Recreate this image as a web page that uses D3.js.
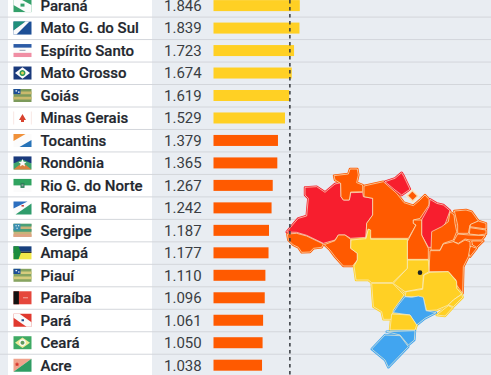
<!DOCTYPE html>
<html><head><meta charset="utf-8">
<script src="https://cdn.jsdelivr.net/npm/d3@7"></script>
<style>html,body{margin:0;padding:0;background:#e9edf2}svg{display:block}text{font-family:Roboto,sans-serif}</style>
</head><body><svg id="c" width="491" height="375"></svg>
<script>
const states = ["Paraná","Mato G. do Sul","Espírito Santo","Mato Grosso","Goiás","Minas Gerais","Tocantins","Rondônia","Rio G. do Norte","Roraima","Sergipe","Amapá","Piauí","Paraíba","Pará","Ceará","Acre"];
const values = [1846,1839,1723,1674,1619,1529,1379,1365,1267,1242,1187,1177,1110,1096,1061,1050,1038];
const referenceValue = 1634;
const yellow="#ffd024", orange="#ff5a00", red="#f71e2e", blue="#41a5f0";
const threshold = 1500;

// flags: layered [fill, path] in an 18x13 box
const G="#34a06a",W="#fbfbfb",B="#1d4f96",N="#1a3a7c",Y="#e6d45a",R="#e0392f";
const stripes=(a,b)=>[[a,"M0 0H18V13H0Z"],[b,"M0 2.6H18V5.2H0ZM0 7.8H18V10.4H0Z"],[B,"M0 0H7V5.2H0Z"],[W,"M2 1.2h1.6v1.2H2zM4.5 2.6h1.5v1.2H4.5z"]];
const flags = [
 [[G,"M0 0H18V13H0Z"],[W,"M0 0H7L18 6V13H12L0 6Z"],[G,"M7 4.5h4v3h-4z"]],
 [[B,"M0 0H18V13H0Z"],["#1f8f7a","M0 0H12L0 9Z"],[W,"M12 0H16L3 13H0V9Z"]],
 [[W,"M0 0H18V13H0Z"],["#2c5ba6","M0 0H18V3.6H0Z"],["#f08ea4","M0 8.8H18V13H0Z"],["#7d8aa0","M6 5.8h6v.8H6z"]],
 [[N,"M0 0H18V13H0Z"],[W,"M9 .8L16.5 6.5 9 12.2 1.5 6.5Z"],["#2b9a58","M9 3.5a3 3 0 1 0 .01 0Z"],[Y,"M9 5a1.5 1.5 0 1 0 .01 0Z"]],
 stripes("#7c9a5b","#c9b96c"),
 [["#ffffff","M0 0H18V13H0Z"],["#f4d8d2","M0 0H.6V13H0ZM17.4 0H18V13H17.4Z"],["#d8432f","M9 2.5L12.5 8.5H10.5V10.5H7.5V8.5H5.5Z"]],
 [[W,"M0 0H18V13H0Z"],["#f0913a","M0 0H12L0 7Z"],["#2773b8","M18 13H6L18 6Z"]],
 [[N,"M0 0H18V7H0Z"],["#3fa46b","M0 13V7L9 3 18 7V13Z"],["#d9823f","M0 13L9 6 18 13Z"],[W,"M9 2.5l1.2 2.8 2.8.2-2.2 1.8.8 2.7L9 8.6 6.4 10l.8-2.7L5 5.5l2.8-.2Z"]],
 [[W,"M0 0H18V13H0Z"],["#2fa35f","M0 0H18V6.5H0Z"],["#2b7f57","M7 4h4v5H7z"],["#8fa0a0","M8 5.5h2v2H8z"]],
 [[W,"M0 0H18V13H0Z"],["#2c6fc0","M0 0H14L0 7Z"],["#2f9c6c","M18 2V13H2Z"],["#c63b3b","M8 3.6h2.4v1.6H8z"]],
 [["#c9b27a","M0 0H18V13H0Z"],["#49a078","M0 0H18V2.6H0ZM0 5.2H18V7.8H0Z"],["#e0a184","M0 10.4H18V13H0Z"],["#3a8fb0","M0 0H7V6.5H0Z"],[W,"M2 1.5h1.2v1H2zM4.5 1.5h1.2v1H4.5zM3 3.8h1.2v1H3z"]],
 [["#18407e","M0 0H18V5.4H0Z"],["#171717","M0 5.4H18V6.6H0Z"],["#f3e84a","M0 6.6H18V13H0Z"],["#1d8d3d","M0 0H5L7.5 6.5 5 13H0Z"]],
 stripes("#87a461","#d6cc7d"),
 [["#e5473c","M0 0H18V13H0Z"],["#121212","M0 0H5.4V13H0Z"],["#f1b0a6","M9.5 6h5v1h-5z"]],
 [[R,"M0 0H18V13H0Z"],[W,"M0 0H6L18 8.5V13H13L0 4Z"],["#25508f","M8 5.5h2.5v2H8z"]],
 [["#3faa64","M0 0H18V13H0Z"],["#f0ea9a","M9 1.2L16.5 6.5 9 11.8 1.5 6.5Z"],[W,"M9 3a3.4 3.4 0 1 0 .01 0Z"],["#5f9b5d","M9 4.5a2 2 0 1 0 .01 0Z"]],
 [["#f0a28c","M0 0H18L0 13Z"],["#2f9c63","M18 0V13H0Z"],["#d8362c","M3.5 3.4l.8 1.4 1.5.2-1.1 1 .3 1.5-1.5-.7-1.4.7.3-1.5-1.1-1 1.5-.2Z"]]
];

// map regions: outlines in a 633x645 design space
const regions = [
 {n:"AC",c:orange,p:[[22,222],[50,220],[80,228],[130,252],[125,262],[100,265],[90,276],[65,277],[55,262],[40,255],[25,240]]},
 {n:"AM",c:red,p:[[20,216],[40,192],[55,175],[80,168],[85,115],[75,105],[75,82],[110,80],[135,97],[165,72],[182,68],[183,110],[190,120],[208,120],[212,98],[248,97],[250,110],[278,115],[278,165],[260,190],[258,232],[212,235],[195,225],[175,225],[165,240],[130,250],[80,226],[50,217]]},
 {n:"RR",c:orange,p:[[162,47],[205,42],[210,27],[232,27],[235,45],[230,68],[248,75],[248,95],[212,96],[208,120],[190,120],[183,110],[182,70],[165,60]]},
 {n:"RO",c:orange,p:[[133,254],[165,242],[175,225],[195,225],[212,238],[212,265],[232,280],[232,300],[218,318],[190,318],[165,290],[150,270]]},
 {n:"PA",c:orange,p:[[252,78],[310,65],[350,100],[372,128],[400,137],[420,120],[435,105],[447,118],[447,135],[420,175],[400,180],[400,190],[408,195],[385,235],[272,235],[265,207],[258,232],[260,190],[278,165],[278,115],[252,110]]},
 {n:"AP",c:red,p:[[315,65],[345,55],[365,38],[372,50],[390,88],[365,105],[345,90]]},
 {n:"MJ",c:orange,p:[[380,107],[397,90],[415,108],[398,125]],wide:true},
 {n:"MA",c:red,p:[[450,118],[470,130],[490,135],[510,152],[498,185],[490,205],[462,220],[455,262],[445,262],[425,225],[425,180],[447,140]]},
 {n:"TO",c:orange,p:[[400,180],[425,180],[425,225],[445,265],[445,298],[382,298],[382,245],[408,195],[400,190]]},
 {n:"PI",c:orange,p:[[510,155],[522,165],[525,190],[530,215],[520,240],[490,250],[480,270],[453,270],[455,215],[485,200],[505,185]]},
 {n:"CE",c:orange,p:[[523,153],[558,150],[575,155],[595,183],[570,195],[565,220],[533,220],[533,195]]},
 {n:"RN",c:orange,p:[[595,183],[618,190],[618,207],[570,200],[572,193]]},
 {n:"PB",c:orange,p:[[570,203],[618,210],[618,222],[595,225],[568,222]]},
 {n:"PE",c:orange,p:[[533,222],[568,225],[615,227],[605,240],[570,240],[555,237],[535,250],[520,245]]},
 {n:"AL",c:orange,p:[[575,243],[610,243],[590,262],[578,255]]},
 {n:"SE",c:orange,p:[[572,258],[590,265],[570,290],[563,275]]},
 {n:"BA",c:orange,p:[[450,272],[480,272],[490,252],[520,245],[535,252],[555,240],[570,245],[570,262],[565,290],[550,320],[548,400],[530,375],[528,360],[505,335],[447,335]]},
 {n:"GO",c:yellow,p:[[382,300],[445,300],[447,335],[430,345],[428,385],[375,395],[340,370],[382,325]]},
 {n:"MT",c:yellow,p:[[213,240],[258,236],[265,207],[272,210],[272,238],[382,238],[382,325],[338,368],[275,368],[265,360],[228,360],[222,318],[232,300],[232,280],[212,265]]},
 {n:"MS",c:yellow,p:[[275,370],[338,370],[372,405],[340,450],[335,478],[310,478],[305,455],[280,440]]},
 {n:"MG",c:yellow,p:[[378,395],[428,388],[432,345],[450,337],[505,335],[530,365],[530,385],[545,402],[520,420],[505,435],[470,450],[440,452],[430,415],[410,410],[375,410]]},
 {n:"ES",c:yellow,p:[[545,403],[548,412],[520,440],[505,435],[520,420]]},
 {n:"RJ",c:yellow,p:[[505,437],[518,443],[495,468],[470,465]]},
 {n:"SP",c:blue,p:[[375,410],[395,412],[415,408],[430,412],[438,452],[468,458],[435,475],[410,495],[390,465],[340,458],[355,435]]},
 {n:"PR",c:yellow,p:[[335,462],[390,465],[410,495],[405,510],[330,510]]},
 {n:"SC",c:blue,p:[[320,515],[405,512],[403,540],[385,555],[360,525]]},
 {n:"RS",c:blue,p:[[275,567],[315,525],[360,527],[385,560],[325,622],[315,600]]}
];
const capital = [420,338];

const svg = d3.select("#c");
const rowY = d3.scaleLinear().domain([0,16]).range([5.6,365.2]);
const x = d3.scaleLinear().domain([0,2000]).range([213.5,307]);
const mx = d3.scaleLinear().domain([0,633]).range([280,491]);
const my = d3.scaleLinear().domain([0,645]).range([160,375]);

svg.append("rect").attr("width",491).attr("height",375).attr("fill","#e9edf2");
svg.append("rect").attr("x",8).attr("width",144).attr("height",375).attr("fill","#ffffff");

svg.selectAll(".sep").data(d3.range(16)).join("line")
  .attr("x1",0).attr("x2",491)
  .attr("y1",i=>rowY(i)+11.5).attr("y2",i=>rowY(i)+11.5)
  .attr("stroke","#d3d6db").attr("stroke-width",1);

const row = svg.selectAll(".row").data(states).join("g")
  .attr("transform",(d,i)=>`translate(0,${rowY(i)})`);
row.append("g").attr("transform","translate(13.5,-6.5)")
  .selectAll("path").data((d,i)=>flags[i]).join("path")
  .attr("fill",d=>d[0]).attr("d",d=>d[1]);
row.append("text").attr("x",40.5).attr("dy","0.36em")
  .attr("font-size",15).attr("font-weight",500).attr("fill","#23272e")
  .attr("stroke","#23272e").attr("stroke-width",0.2).text(d=>d);
row.append("text").attr("x",164).attr("dy","0.36em")
  .attr("font-size",15).attr("fill","#3a3d42").text((d,i)=>d3.format(".3f")(values[i]/1000));
row.append("rect").attr("x",x(0)).attr("y",-5.5).attr("height",11)
  .attr("width",(d,i)=>x(values[i])-x(0))
  .attr("fill",(d,i)=>values[i]>=threshold?yellow:orange);

const outline = d3.line().x(d=>mx(d[0])).y(d=>my(d[1])).curve(d3.curveLinearClosed);
// under-layer closes the small gaps between neighbouring outlines
svg.append("g").selectAll("path").data(regions.filter(d=>!d.wide)).join("path")
  .attr("d",d=>outline(d.p)).attr("fill",d=>d.c)
  .attr("stroke",d=>d.c).attr("stroke-width",2.4).attr("stroke-linejoin","round");
svg.append("g").selectAll("path").data(regions).join("path")
  .attr("d",d=>outline(d.p)).attr("fill",d=>d.c)
  .attr("stroke","#f8efd0").attr("stroke-opacity",0.85)
  .attr("stroke-width",d=>d.wide?2.4:0.8).attr("stroke-linejoin","round");
svg.append("circle").attr("cx",mx(capital[0])).attr("cy",my(capital[1])).attr("r",2.3).attr("fill","#1c2326");

svg.append("line").attr("x1",x(referenceValue)).attr("x2",x(referenceValue)).attr("y1",0).attr("y2",375)
  .attr("stroke","#33373d").attr("stroke-width",1.5).attr("stroke-dasharray","3.5,3.5");
</script></body></html>
